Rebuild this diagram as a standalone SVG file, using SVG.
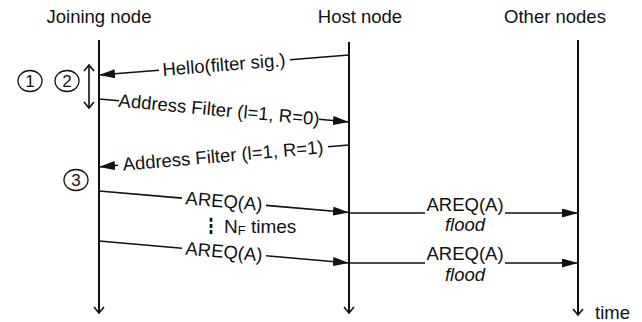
<svg xmlns="http://www.w3.org/2000/svg" width="642" height="322" viewBox="0 0 642 322">
<style>
text{font-family:"Liberation Sans",Arial,"DejaVu Sans",sans-serif;font-size:18.5px;fill:#111}
.ln{stroke:#111;stroke-width:1.6;fill:none}
.life{stroke:#111;stroke-width:2;fill:none}
.it{font-style:italic}
.mid{text-anchor:middle}
.circ{fill:none;stroke:#111;stroke-width:1.3}
</style>
<defs>
<marker id="ah" markerUnits="userSpaceOnUse" markerWidth="18" markerHeight="10" refX="16" refY="4.5" orient="auto"><path d="M0,0 L16,4.5 L0,9 z" fill="#111"/></marker>
<marker id="oa" markerUnits="userSpaceOnUse" markerWidth="14" markerHeight="12" refX="7" refY="6" orient="auto-start-reverse"><path d="M1,1 L7,6 L1,11" fill="none" stroke="#111" stroke-width="1.6"/></marker>
</defs>
<rect width="642" height="322" fill="#fff"/>
<g id="joining">
<text class="mid" x="99" y="23">Joining node</text>
<line class="life" x1="99" y1="40" x2="99" y2="313" marker-end="url(#oa)"/>
</g>
<g id="host">
<text class="mid" x="360" y="23">Host node</text>
<line class="life" x1="349" y1="42" x2="349" y2="313" marker-end="url(#oa)"/>
</g>
<g id="other">
<text class="mid" x="555" y="23">Other nodes</text>
<line class="life" x1="578" y1="40" x2="578" y2="315" marker-end="url(#oa)"/>
<text x="595" y="319">time</text>
</g>
<g id="steps">
<ellipse class="circ" cx="30" cy="81" rx="12" ry="10.5"/><text class="mid" x="30" y="87" style="font-size:17px">1</text>
<ellipse class="circ" cx="67" cy="81" rx="12" ry="10.5"/><text class="mid" x="67" y="87" style="font-size:17px">2</text>
<ellipse class="circ" cx="76" cy="180" rx="12" ry="10.5"/><text class="mid" x="76" y="186" style="font-size:17px">3</text>
<line class="ln" x1="89" y1="65" x2="89" y2="108" marker-start="url(#oa)" marker-end="url(#oa)"/>
</g>
<g id="connectors">
<line class="ln" x1="349" y1="55" x2="290" y2="59.7"/>
<line class="ln" x1="159" y1="70.2" x2="99" y2="75" marker-end="url(#ah)"/>
<text class="mid" x="224" y="71" transform="rotate(-4.57 224 65)">Hello(filter sig.)</text>
<line class="ln" x1="99" y1="99" x2="119" y2="100.8"/>
<line class="ln" x1="319" y1="119.2" x2="349" y2="122" marker-end="url(#ah)"/>
<text class="mid" x="219" y="116" transform="rotate(5.26 219 110)">Address Filter (l=1, R=0)</text>
<line class="ln" x1="349" y1="145" x2="328" y2="146.8"/>
<line class="ln" x1="118" y1="165.3" x2="99" y2="167" marker-end="url(#ah)"/>
<text class="mid" x="223" y="162" transform="rotate(-5.03 223 156)">Address Filter (l=1, R=1)</text>
<line class="ln" x1="99" y1="191" x2="182" y2="198.1"/>
<line class="ln" x1="266" y1="205.4" x2="349" y2="212.5" marker-end="url(#ah)"/>
<text class="mid" x="224" y="207.5" transform="rotate(4.9 224 201.7)">AREQ(A)</text>
<line class="ln" x1="99" y1="241" x2="182" y2="248.3"/>
<line class="ln" x1="266" y1="255.7" x2="349" y2="263" marker-end="url(#ah)"/>
<text class="mid" x="224" y="258" transform="rotate(5.03 224 252)">AREQ(A)</text>
<text class="mid" transform="translate(211 233) scale(0.7 1)" style="font-weight:bold;font-size:21px">⋮</text>
<text x="224" y="233" style="font-size:19px">N<tspan style="font-size:13px" dy="2">F</tspan><tspan dy="-2"> times</tspan></text>
<line class="ln" x1="349" y1="213" x2="425" y2="213"/>
<line class="ln" x1="505" y1="213" x2="578" y2="213" marker-end="url(#ah)"/>
<text class="mid" x="465" y="211">AREQ(A)</text>
<text class="mid it" x="465" y="231">flood</text>
<line class="ln" x1="349" y1="263" x2="425" y2="263"/>
<line class="ln" x1="505" y1="263" x2="578" y2="263" marker-end="url(#ah)"/>
<text class="mid" x="465" y="260">AREQ(A)</text>
<text class="mid it" x="465" y="281">flood</text>
</g>
</svg>
